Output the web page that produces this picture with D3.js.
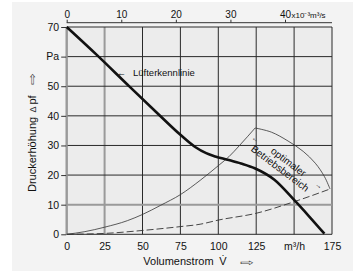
<!DOCTYPE html>
<html><head><meta charset="utf-8">
<script src="https://cdn.jsdelivr.net/npm/d3@7"></script>
<style>
html,body{margin:0;padding:0;background:#fff;}
svg{display:block;font-family:"Liberation Sans",Arial,sans-serif;}
</style></head>
<body><svg id="c" width="355" height="275"></svg>
<script>
// Data
const fanX = [0, 20, 40, 60, 75, 85, 92, 98, 106, 115, 124, 137, 150, 160, 170];
const fanY = [70, 60.5, 50.6, 40.8, 33.6, 29.4, 27.4, 26.3, 25.2, 23.9, 22.3, 18.4, 11.6, 6.0, 0.2];
const upperX = [0, 12, 25, 40, 50, 62, 75, 88, 101, 107, 114, 124.3];
const upperY = [0, 0.9, 2.4, 4.6, 6.7, 9.8, 13.4, 18.2, 23.6, 26.2, 30.0, 35.9];
const lowerX = [0, 25, 50, 75, 88, 100, 125, 150, 173.7];
const lowerY = [0, 0.3, 1.3, 2.6, 3.4, 4.8, 7.1, 11.0, 15.3];
const arcX = [124.3, 135, 146, 156, 164, 170, 173.7];
const arcY = [35.9, 34.5, 31.5, 28.0, 24.0, 19.5, 15.3];
const xTicks = [0, 25, 50, 75, 100, 125, 150, 175];
const xTickLabels = ["0", "25", "50", "75", "100", "125", "m³/h", "175"];
const yTicks = [0, 10, 20, 30, 40, 50, 60, 70];
const yTickLabels = ["0", "10", "20", "30", "40", "50", "Pa", "70"];
const topTicks = [0, 10, 20, 30, 40];
const topTickLabels = ["0", "10", "20", "30", "40"];
const highlightX = [0, 25];
const highlightY = [10];

const svg = d3.select("#c");
const x = d3.scaleLinear().domain([0, 175]).range([66.7, 332]);
const y = d3.scaleLinear().domain([0, 70]).range([234.3, 27]);
const xTop = d3.scaleLinear().domain([0, 175 / 3.6]).range([66.7, 332]);

svg.append("rect").attr("x", 12).attr("y", 2).attr("width", 341).attr("height", 269).attr("fill", "#f3f3f3");
svg.append("rect").attr("x", x(0)).attr("y", y(70)).attr("width", x(175) - x(0)).attr("height", y(0) - y(70)).attr("fill", "#ececec");

// grid
const g = svg.append("g");
xTicks.forEach(v => {
  const hl = highlightX.includes(v);
  g.append("line").attr("x1", x(v)).attr("x2", x(v)).attr("y1", y(0)).attr("y2", y(70))
    .attr("stroke", hl ? "#9a9a9a" : "#2a2a2a").attr("stroke-width", hl ? 2 : 1);
});
yTicks.forEach(v => {
  const hl = highlightY.includes(v);
  g.append("line").attr("x1", x(0)).attr("x2", x(175)).attr("y1", y(v)).attr("y2", y(v))
    .attr("stroke", hl ? "#9a9a9a" : "#2a2a2a").attr("stroke-width", hl ? 2 : 1);
});
g.append("line").attr("x1", x(0)).attr("x2", x(0)).attr("y1", y(0)).attr("y2", y(70))
  .attr("stroke", "#9a9a9a").attr("stroke-width", 2);

// left axis
const yAxis = d3.axisLeft(y).tickValues(yTicks).tickSize(5).tickPadding(2)
  .tickFormat((d, i) => yTickLabels[i]);
const ya = svg.append("g").attr("transform", `translate(${x(0) - 0.5},0)`).call(yAxis);
ya.select(".domain").remove();
ya.selectAll("line").attr("stroke", "#333");
ya.selectAll("text").attr("font-size", 10.5).attr("fill", "#111").attr("font-family", "Liberation Sans, Arial, sans-serif");

// bottom axis
const xAxis = d3.axisBottom(x).tickValues(xTicks).tickSize(0).tickPadding(8)
  .tickFormat((d, i) => xTickLabels[i]);
const xa = svg.append("g").attr("transform", `translate(0,${y(0)})`).call(xAxis);
xa.select(".domain").remove();
xa.selectAll("text").attr("font-size", 10.5).attr("fill", "#111").attr("font-family", "Liberation Sans, Arial, sans-serif");

// top axis
const topAxis = d3.axisTop(xTop).tickValues(topTicks).tickSize(3).tickPadding(2)
  .tickFormat((d, i) => topTickLabels[i]);
const ta = svg.append("g").attr("transform", "translate(0,22.7)").call(topAxis);
ta.select(".domain").attr("stroke", "#333").attr("d", `M${x(0)},0H${x(175)}`);
ta.selectAll("line").attr("stroke", "#333");
ta.selectAll("text").attr("font-size", 10).attr("fill", "#111").attr("font-family", "Liberation Sans, Arial, sans-serif");
svg.append("text").attr("x", xTop(40) + 6.5).attr("y", 18).attr("font-size", 8).attr("fill", "#111")
  .text("x10⁻³m³/s");

// curves
const zip = (a, b) => a.map((v, i) => [v, b[i]]);
const mk = c => d3.line().x(d => x(d[0])).y(d => y(d[1])).curve(c);
svg.append("path").datum(zip(upperX, upperY)).attr("d", mk(d3.curveMonotoneX))
  .attr("fill", "none").attr("stroke", "#333").attr("stroke-width", 0.8);
svg.append("path").datum(zip(lowerX, lowerY)).attr("d", mk(d3.curveMonotoneX))
  .attr("fill", "none").attr("stroke", "#333").attr("stroke-width", 0.9).attr("stroke-dasharray", "7,3");
svg.append("path").datum(zip(arcX, arcY)).attr("d", mk(d3.curveCatmullRom))
  .attr("fill", "none").attr("stroke", "#333").attr("stroke-width", 0.8);
svg.append("path").datum(zip(fanX, fanY)).attr("d", mk(d3.curveMonotoneX))
  .attr("fill", "none").attr("stroke", "#111").attr("stroke-width", 2.6);

// labels
svg.append("text").attr("x", 117).attr("y", 75.5).attr("font-size", 9).attr("fill", "#111").text("←");
svg.append("text").attr("x", 133).attr("y", 75.5).attr("font-size", 9.5).attr("fill", "#111").text("Lüfterkennlinie");

const rg = svg.append("g").attr("transform", "translate(280,168.3) rotate(37)");
rg.append("text").attr("x", 0).attr("y", 3.5).attr("text-anchor", "middle").attr("font-size", 10).attr("fill", "#111").text("Betriebsbereich");
rg.append("text").attr("x", 3).attr("y", -6.8).attr("text-anchor", "middle").attr("font-size", 10).attr("fill", "#111").text("optimaler");
svg.append("text").attr("transform", "translate(255.5,139) rotate(37)").attr("text-anchor", "middle").attr("dy", "0.35em")
  .attr("font-size", 7).attr("fill", "#111").text("←");
svg.append("text").attr("transform", "translate(319,185.5) rotate(37)").attr("text-anchor", "middle").attr("dy", "0.35em")
  .attr("font-size", 7).attr("fill", "#111").text("→");

// axis titles
svg.append("text").attr("x", 143.3).attr("y", 265).attr("font-size", 11).attr("fill", "#111").text("Volumenstrom");
svg.append("text").attr("x", 223).attr("y", 265).attr("text-anchor", "middle").attr("font-size", 11).attr("fill", "#111").text("V̇");
svg.append("text").attr("transform", "translate(247.5,263) scale(1.5,0.9)").attr("text-anchor", "middle").attr("dy", "0.35em")
  .attr("font-size", 11).attr("fill", "#444").text("⇨");

const yt = svg.append("g").attr("transform", "translate(36,0) rotate(-90)");
yt.append("text").attr("x", -192).attr("y", 0).attr("font-size", 11).attr("fill", "#111").text("Druckerhöhung");
yt.append("text").attr("x", -109.5).attr("y", 0).attr("text-anchor", "middle").attr("font-size", 9).attr("fill", "#333").text("Δ");
yt.append("text").attr("x", -100).attr("y", 0).attr("text-anchor", "middle").attr("font-size", 11).attr("fill", "#111").text("pf");
yt.append("text").attr("transform", "translate(-79,-4) scale(1.3,1)").attr("text-anchor", "middle").attr("dy", "0.35em")
  .attr("font-size", 11).attr("fill", "#444").text("⇨");
</script></body></html>
